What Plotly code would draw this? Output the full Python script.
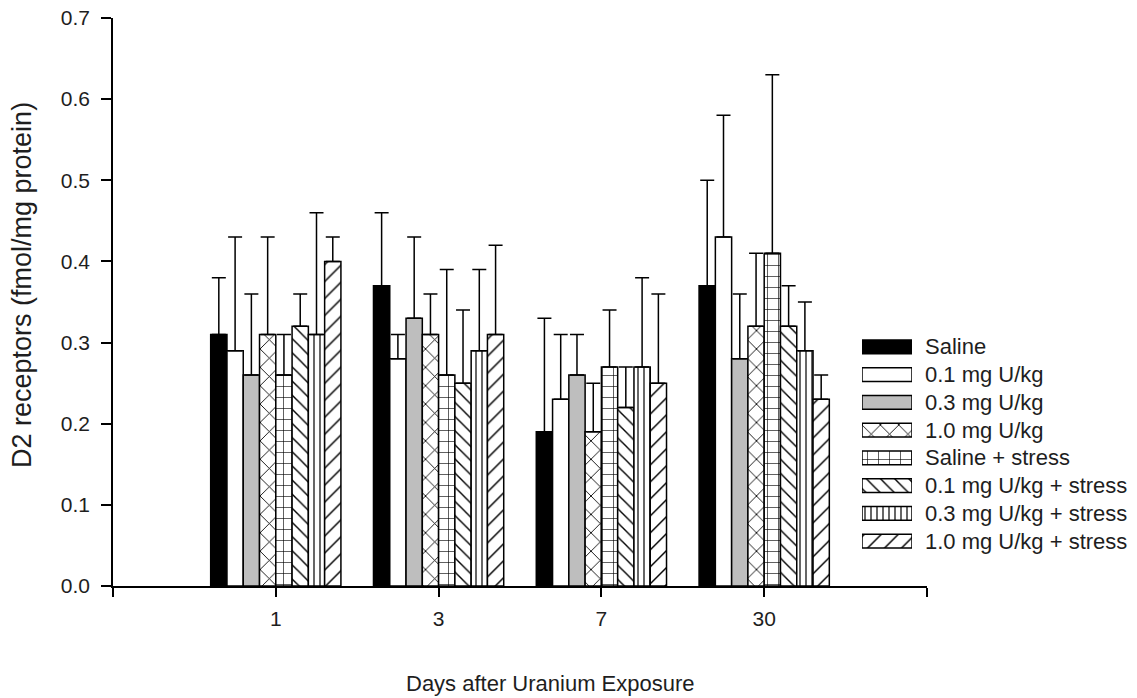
import plotly.graph_objects as go

# Days after uranium exposure (x categories)
days = ["1", "3", "7", "30"]

# Series names (legend order)
series_names = [
    "Saline",
    "0.1 mg U/kg",
    "0.3 mg U/kg",
    "1.0 mg U/kg",
    "Saline + stress",
    "0.1 mg U/kg + stress",
    "0.3 mg U/kg + stress",
    "1.0 mg U/kg + stress",
]

# Mean D2 receptor density (fmol/mg protein) per day
saline = [0.31, 0.37, 0.19, 0.37]
u01 = [0.29, 0.28, 0.23, 0.43]
u03 = [0.26, 0.33, 0.26, 0.28]
u10 = [0.31, 0.31, 0.19, 0.32]
saline_stress = [0.26, 0.26, 0.27, 0.41]
u01_stress = [0.32, 0.25, 0.22, 0.32]
u03_stress = [0.31, 0.29, 0.27, 0.29]
u10_stress = [0.40, 0.31, 0.25, 0.23]

# Upper error (SEM) per day
saline_err = [0.07, 0.09, 0.14, 0.13]
u01_err = [0.14, 0.03, 0.08, 0.15]
u03_err = [0.10, 0.10, 0.05, 0.08]
u10_err = [0.12, 0.05, 0.06, 0.09]
saline_stress_err = [0.05, 0.13, 0.07, 0.22]
u01_stress_err = [0.04, 0.09, 0.05, 0.05]
u03_stress_err = [0.15, 0.10, 0.11, 0.06]
u10_stress_err = [0.03, 0.11, 0.11, 0.03]

# Y-axis ticks
y_ticks = [0.0, 0.1, 0.2, 0.3, 0.4, 0.5, 0.6, 0.7]

means = [saline, u01, u03, u10, saline_stress, u01_stress, u03_stress, u10_stress]
errors = [saline_err, u01_err, u03_err, u10_err,
          saline_stress_err, u01_stress_err, u03_stress_err, u10_stress_err]

# Fill style for each series: (fill colour, pattern shape, pattern size, solidity)
styles = [
    ("black", "", 8, 0.3),
    ("white", "", 8, 0.3),
    ("#bebebe", "", 8, 0.3),
    ("white", "x", 13, 0.13),
    ("white", "+", 11, 0.11),
    ("white", "\\", 10, 0.14),
    ("white", "|", 6, 0.2),
    ("white", "/", 12, 0.12),
]

FONT = "Arial, 'Liberation Sans', sans-serif"
TEXT_COLOR = "#1e1e1e"

W, H = 1137, 698
ML, MR, MT, MB = 113, 2, 18, 112
PW, PH = W - ML - MR, H - MT - MB


def px_x(x):
    return (x - ML) / PW


def px_y(y):
    return (H - MB - y) / PH


def marker_for(style):
    col, shape, size, sol = style
    m = dict(color=col, line=dict(color="black", width=1.5))
    if shape:
        m["pattern"] = dict(shape=shape, size=size, solidity=sol,
                            fgcolor="black", bgcolor=col, fillmode="replace")
    return m


x_pos = list(range(len(days)))

fig = go.Figure()

for name, vals, err, style in zip(series_names, means, errors, styles):
    fig.add_trace(go.Bar(
        x=x_pos,
        y=vals,
        name=name,
        showlegend=False,
        marker=marker_for(style),
        error_y=dict(type="data", symmetric=False, array=err,
                     arrayminus=[0] * len(err), color="black",
                     thickness=1.5, width=7),
        xaxis="x", yaxis="y",
    ))

# Legend swatches drawn as small horizontal bars on their own axes
for i, (name, style) in enumerate(zip(series_names, styles)):
    fig.add_trace(go.Bar(
        x=[1],
        y=[i],
        orientation="h",
        width=0.5,
        name=name,
        showlegend=False,
        hoverinfo="skip",
        cliponaxis=False,
        marker=marker_for(style),
        xaxis="x2", yaxis="y2",
    ))

annotations = []
for i, name in enumerate(series_names):
    annotations.append(dict(
        text=name, xref="paper", yref="y2", x=px_x(923), y=i,
        xanchor="left", yanchor="middle", showarrow=False,
        font=dict(family=FONT, size=22, color=TEXT_COLOR),
    ))

annotations.append(dict(
    text="Days after Uranium Exposure", xref="paper", yref="paper",
    x=px_x(550), y=px_y(683), xanchor="center", yanchor="middle",
    showarrow=False, font=dict(family=FONT, size=22, color=TEXT_COLOR),
))
annotations.append(dict(
    text="D2 receptors (fmol/mg protein)", xref="paper", yref="paper",
    x=px_x(22), y=px_y(285), xanchor="center", yanchor="middle",
    textangle=-90, showarrow=False,
    font=dict(family=FONT, size=27, color=TEXT_COLOR),
))

fig.update_layout(
    width=W, height=H,
    margin=dict(l=ML, r=MR, t=MT, b=MB, pad=0),
    paper_bgcolor="white", plot_bgcolor="white",
    barmode="group", bargap=0.2, bargroupgap=0.0,
    font=dict(family=FONT, size=21, color=TEXT_COLOR),
    annotations=annotations,
    xaxis=dict(
        domain=[0, px_x(927)],
        range=[-1, 4],
        tickmode="array",
        tickvals=[-1] + x_pos + [4],
        ticktext=[""] + days + [""],
        showline=True, linecolor="black", linewidth=1.5,
        ticks="outside", ticklen=9, tickwidth=1.5, tickcolor="black",
        ticklabelstandoff=4,
        showgrid=False, zeroline=False,
        tickfont=dict(family=FONT, size=21, color=TEXT_COLOR),
    ),
    yaxis=dict(
        range=[0, 0.7],
        tickmode="array",
        tickvals=y_ticks,
        ticktext=[f"{v:.1f}" for v in y_ticks],
        showline=True, linecolor="black", linewidth=1.5,
        ticks="outside", ticklen=10, tickwidth=1.5, tickcolor="black",
        ticklabelstandoff=7,
        showgrid=False, zeroline=False,
        tickfont=dict(family=FONT, size=21, color=TEXT_COLOR),
    ),
    xaxis2=dict(
        domain=[px_x(862), px_x(912)],
        range=[0, 1], anchor="y2",
        visible=False, fixedrange=True,
    ),
    yaxis2=dict(
        domain=[px_y(555), px_y(333)],
        range=[len(series_names) - 0.5, -0.5], anchor="x2",
        visible=False, fixedrange=True,
    ),
)

fig.write_html("out.html")
